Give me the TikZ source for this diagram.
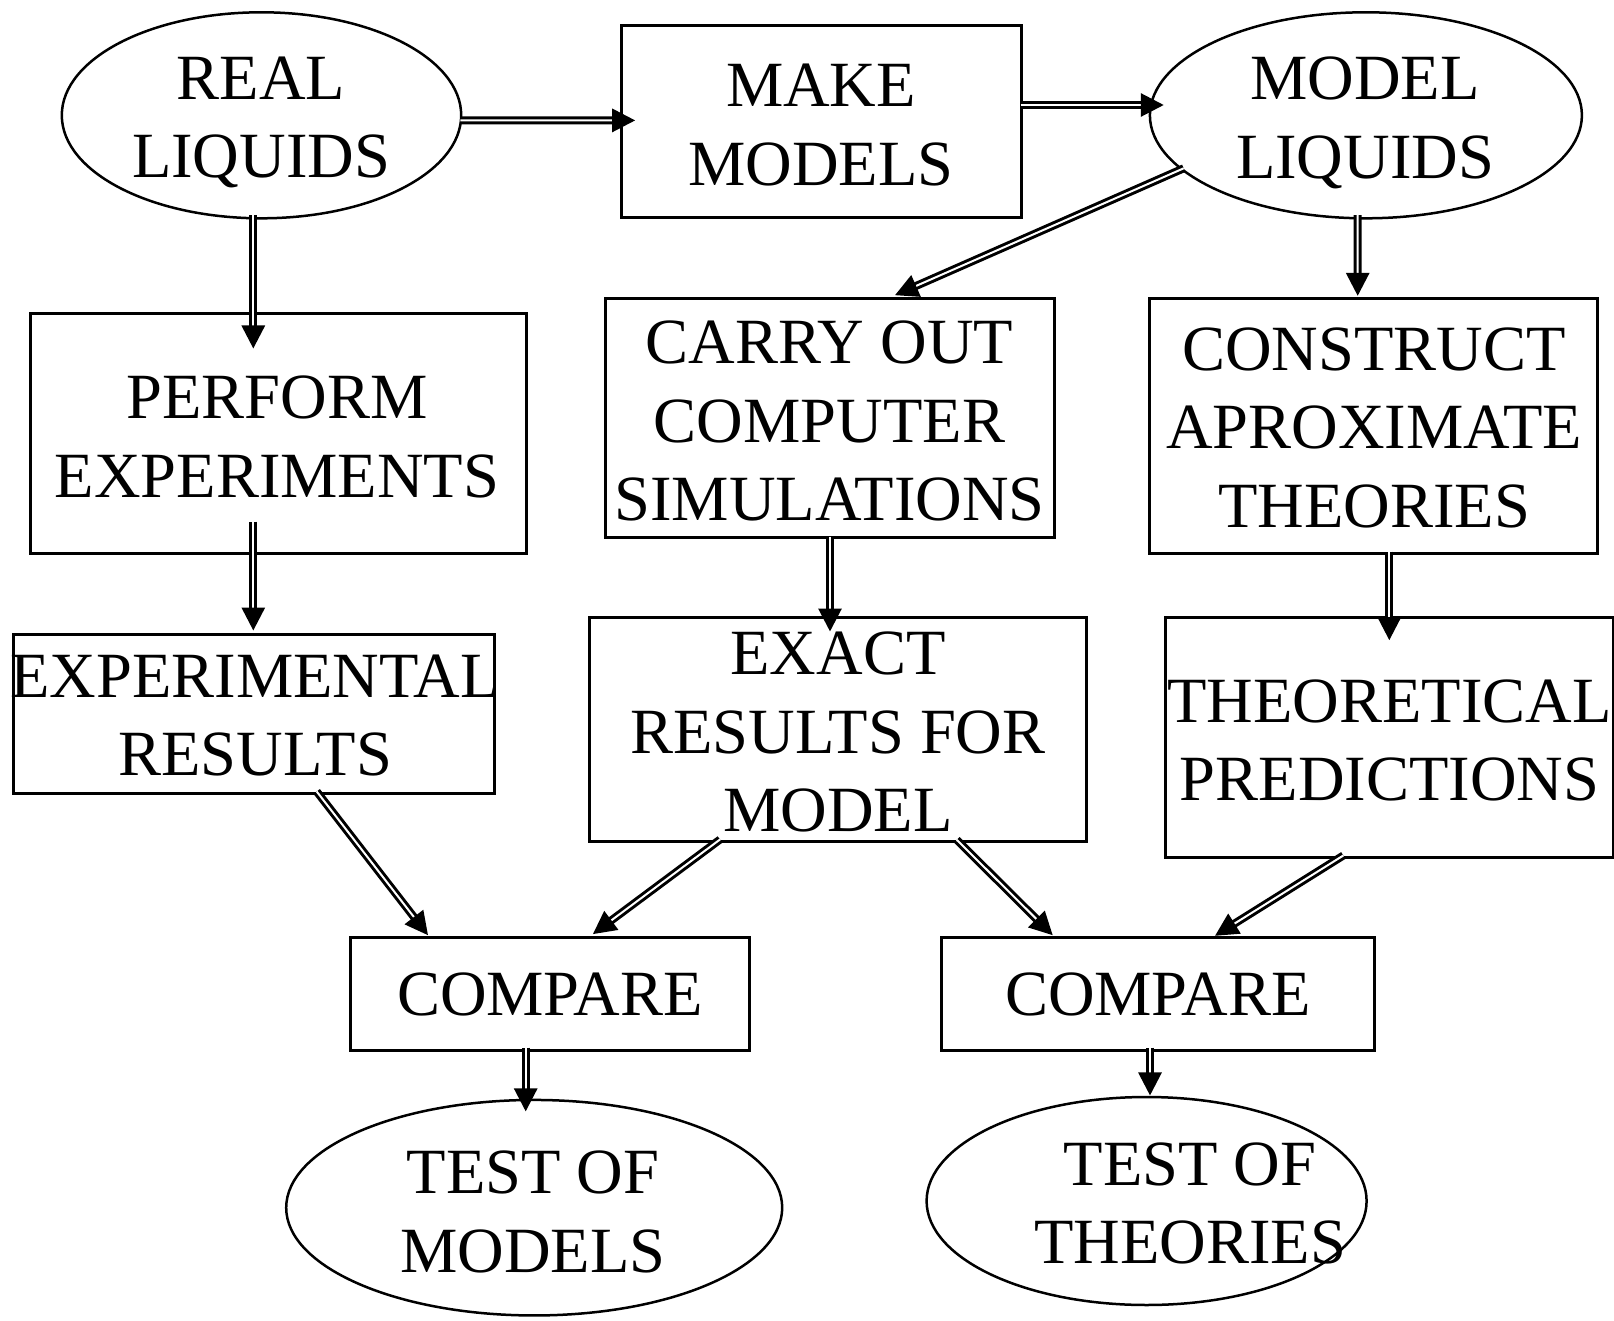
\documentclass[tikz,border=0pt]{standalone}
\usepackage{fontspec}
\setmainfont{Liberation Serif}
\usetikzlibrary{shapes.geometric,arrows.meta,calc}
\begin{document}
\begin{tikzpicture}[x=1pt,y=-1pt,
  shapebox/.style={draw,line width=3pt,rectangle,inner sep=0pt},
  shapeell/.style={draw,line width=2.5pt,ellipse,inner sep=0pt},
  lbl/.style={anchor=north,inner sep=0pt,align=center,font=\fontsize{64.5}{78.5}\selectfont},
  arr/.style={double,line width=3pt,double distance=2pt,-{Triangle[length=23pt,width=23pt]}}]
\useasboundingbox (0,0) rectangle (1614,1321);
% shapes
\node[shapeell,minimum width=399.4pt,minimum height=206pt] (real) at (261.5,115.3) {};
\node[shapebox,minimum width=399.3pt,minimum height=191.5pt] (make) at (821.35,121.45) {};
\node[shapeell,minimum width=432pt,minimum height=206pt] (model) at (1365.9,115.3) {};
\node[shapebox,minimum width=496pt,minimum height=239.8pt] (perform) at (278,433.9) {};
\node[shapebox,minimum width=449pt,minimum height=238.8pt] (carry) at (829.5,417.9) {};
\node[shapebox,minimum width=447.8pt,minimum height=255.3pt] (construct) at (1373.6,426.2) {};
\node[shapebox,minimum width=480.6pt,minimum height=159.6pt] (expres) at (253.7,713.8) {};
\node[shapebox,minimum width=496.2pt,minimum height=223.4pt] (exact) at (837.9,729.3) {};
\node[shapebox,minimum width=448pt,minimum height=239.8pt] (theo) at (1389,737.5) {};
\node[shapebox,minimum width=399.3pt,minimum height=112.3pt] (cmp1) at (549.65,993.85) {};
\node[shapebox,minimum width=432.3pt,minimum height=112.3pt] (cmp2) at (1157.95,993.85) {};
\node[shapeell,minimum width=496pt,minimum height=215.5pt] (testm) at (534.2,1207.7) {};
\node[shapeell,minimum width=440pt,minimum height=208pt] (testt) at (1146.6,1201) {};
% texts
\node[lbl] (treal) at (261,56.6) {REAL\\LIQUIDS};
\node[lbl] (tmake) at (821,63.8) {MAKE\\MODELS};
\node[lbl] (tmodel) at (1365,56.6) {MODEL\\LIQUIDS};
\node[lbl] (tperform) at (277,375.7) {PERFORM\\EXPERIMENTS};
\node[lbl] (tcarry) at (829.5,321) {CARRY OUT\\COMPUTER\\SIMULATIONS};
\node[lbl] (tconstruct) at (1374,327.3) {CONSTRUCT\\APROXIMATE\\THEORIES};
\node[lbl] (texpres) at (255,654.6) {EXPERIMENTAL\\RESULTS};
\node[lbl] (texact) at (838,632) {EXACT\\RESULTS FOR\\MODEL};
\node[lbl] (ttheo) at (1389.6,679.3) {THEORETICAL\\PREDICTIONS};
\node[lbl] (tcmp1) at (550,972.7) {COMPARE};
\node[lbl] (tcmp2) at (1158,972.7) {COMPARE};
\node[lbl] (ttestm) at (533,1150.8) {TEST OF\\MODELS};
\node[lbl] (ttestt) at (1190,1142.5) {TEST OF\\THEORIES};
% arrows
\draw[arr] ($(real.east)+(-2.2,5.1)$) -- ($(make.west)+(15,-1.05)$);
\draw[arr] ($(make.east)+(-2,-16.45)$) -- ($(model.west)+(15.1,-10.3)$);
\draw[arr] ($(model.center)+(-182.2,53)$) -- ($(carry.north)+(65.5,-1.8)$);
\draw[arr] ($(model.south)+(-8.2,-4.3)$) -- ($(construct.north)+(-15.9,-1.2)$);
\draw[arr] ($(real.south)+(-8.2,-4.3)$) -- ($(perform.north)+(-24.7,36)$);
\draw[arr] ($(perform.south)+(-24.7,-33.8)$) -- ($(expres.north)+(-0.4,-2)$);
\draw[arr] ($(carry.south)+(0.5,-2.3)$) -- ($(exact.north)+(-7.9,15.4)$);
\draw[arr] ($(construct.south)+(15.7,-3.8)$) -- ($(theo.north)+(0.3,24.1)$);
\draw[arr] ($(expres.south)+(63,-3.6)$) -- ($(cmp1.north)+(-121.65,-1)$);
\draw[arr] ($(exact.south)+(-117.9,-3)$) -- ($(cmp1.north)+(43.25,-2.1)$);
\draw[arr] ($(exact.south)+(118.8,-2.7)$) -- ($(cmp2.north)+(-105.25,-1)$);
\draw[arr] ($(theo.south)+(-45.7,-3.4)$) -- ($(cmp2.north)+(57.05,-0.4)$);
\draw[arr] ($(cmp1.south)+(-23.95,-4)$) -- ($(testm.north)+(-8.5,12.7)$);
\draw[arr] ($(cmp2.south)+(-7.95,-4)$) -- ($(testt.north)+(3.4,-0.3)$);
\end{tikzpicture}
\end{document}
